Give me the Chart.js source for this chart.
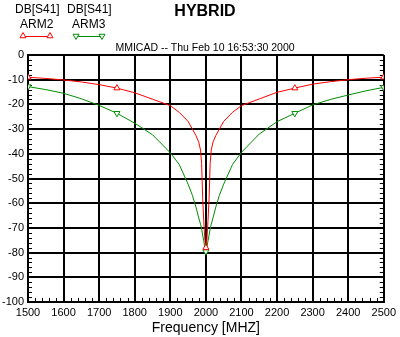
<!DOCTYPE html>
<html>
<head>
<meta charset="utf-8">
<title>HYBRID</title>
<script src="https://cdn.jsdelivr.net/npm/chart.js@4.4.1/dist/chart.umd.min.js"></script>
<style>
  html, body { margin: 0; padding: 0; background: #fff; }
  #wrap { width: 400px; height: 337px; }
</style>
</head>
<body>
<div id="wrap"><canvas id="hybridChart" width="400" height="337"></canvas></div>
<script>
// Hybrid isolation, DB[S41] for both arms over 1500-2500 MHz
const freqMHz = [1500, 1550, 1600, 1650, 1700, 1750, 1800, 1850, 1900, 1925, 1950, 1962, 1972, 1980, 1985,
                 1988, 1991, 1994, 1997, 2000, 2003, 2006, 2009, 2012, 2015, 2020, 2028, 2038, 2050, 2075,
                 2100, 2150, 2200, 2250, 2300, 2350, 2400, 2450, 2500];
const arm2Db = [-9.0, -9.5, -10.1, -10.9, -12.0, -13.4, -15.3, -17.9, -20.5, -23.2, -26.9, -30.0, -32.6, -35.3, -38.5,
                -44.0, -58.0, -67.0, -74.5, -78.0, -74.5, -67.0, -58.0, -44.0, -38.5, -35.3, -32.6, -30.0, -26.9, -23.2,
                -20.5, -17.8, -15.1, -13.4, -11.8, -10.8, -10.0, -9.4, -9.0];
const arm3Db = [-12.8, -14.0, -15.5, -17.7, -20.4, -23.6, -27.6, -32.3, -39.6, -44.3, -52.3, -56.8, -61.5, -66.0, -68.5,
                -70.5, -72.9, -75.2, -77.8, -79.6, -77.8, -75.2, -72.9, -70.5, -68.5, -66.0, -61.5, -56.8, -52.3, -44.3,
                -39.4, -32.0, -27.0, -23.6, -20.2, -18.0, -16.2, -14.5, -13.1];
const markerFreqs = [1500, 1750, 2000, 2250, 2500];
const seriesNames = ['ARM2', 'ARM3'];
const paramName = 'DB[S41]';
const chartTitle = 'HYBRID';
const stampText = 'MMICAD -- Thu Feb 10 16:53:30 2000';

const RED = '#ff0000';
const GREEN = '#008c00';
const FONT = '"Liberation Sans", Arial, sans-serif';

function markerRadius(ctx) {
  return markerFreqs.includes(freqMHz[ctx.dataIndex]) ? 3.5 : 0;
}

function toPoints(values) {
  return freqMHz.map((f, i) => ({ x: f, y: values[i] }));
}

// small inward ticks every 2 dB and every 20 MHz
const minorTicks = {
  id: 'minorTicks',
  beforeDatasetsDraw(chart) {
    const { ctx, chartArea: a, scales: { x, y } } = chart;
    ctx.save();
    ctx.strokeStyle = '#000';
    ctx.lineWidth = 1;
    ctx.beginPath();
    for (let v = -98; v < 0; v += 2) {
      if (v % 10 === 0) continue;
      const py = Math.round(y.getPixelForValue(v)) + 0.5;
      ctx.moveTo(a.left, py); ctx.lineTo(a.left + 4, py);
      ctx.moveTo(a.right, py); ctx.lineTo(a.right - 4, py);
    }
    for (let f = 1520; f < 2500; f += 20) {
      if (f % 100 === 0) continue;
      const px = Math.round(x.getPixelForValue(f)) + 0.5;
      ctx.moveTo(px, a.bottom); ctx.lineTo(px, a.bottom - 4);
    }
    ctx.stroke();
    ctx.restore();
  }
};

// title, time stamp and the stacked legend above the plot
const header = {
  id: 'header',
  afterDraw(chart) {
    const { ctx } = chart;
    ctx.save();
    ctx.fillStyle = '#000';
    ctx.textBaseline = 'middle';

    ctx.textAlign = 'center';
    ctx.font = 'bold 16px ' + FONT;
    ctx.fillText(chartTitle, 205, 12);
    ctx.font = '10.5px ' + FONT;
    ctx.fillText(stampText, 205, 48);

    ctx.textAlign = 'left';
    const slots = [
      { tx: 15, nx: 20, x0: 23, x1: 50, rot: 0 },
      { tx: 67, nx: 72, x0: 76, x1: 102, rot: 180 }
    ];
    chart.data.datasets.forEach((ds, i) => {
      const s = slots[i];
      ctx.fillStyle = '#000';
      ctx.font = '12px ' + FONT;
      ctx.fillText(paramName, s.tx, 10);
      ctx.fillText(seriesNames[i], s.nx, 25);

      ctx.strokeStyle = ds.borderColor;
      ctx.lineWidth = 1;
      ctx.beginPath();
      ctx.moveTo(s.x0, 36.5); ctx.lineTo(s.x1, 36.5);
      ctx.stroke();
      ctx.fillStyle = '#fff';
      [s.x0, s.x1].forEach(px => {
        Chart.helpers.drawPoint(ctx, { pointStyle: 'triangle', radius: 3.5, rotation: s.rot, borderWidth: 1 }, px, 36);
      });
    });
    ctx.restore();
  }
};

const gridStyle = { color: '#000', lineWidth: 2, drawTicks: false };
const tickFont = { family: FONT, size: 11 };

new Chart(document.getElementById('hybridChart'), {
  type: 'line',
  data: {
    datasets: [
      {
        label: seriesNames[0],
        data: toPoints(arm2Db),
        borderColor: RED,
        backgroundColor: '#fff',
        borderWidth: 1,
        pointStyle: 'triangle',
        pointRotation: 0,
        pointRadius: markerRadius,
        pointBorderWidth: 1,
        tension: 0
      },
      {
        label: seriesNames[1],
        data: toPoints(arm3Db),
        borderColor: GREEN,
        backgroundColor: '#fff',
        borderWidth: 1,
        pointStyle: 'triangle',
        pointRotation: 180,
        pointRadius: markerRadius,
        pointBorderWidth: 1,
        tension: 0
      }
    ]
  },
  options: {
    responsive: false,
    animation: false,
    devicePixelRatio: 1,
    layout: { padding: { top: 55, right: 16, left: 0, bottom: 0 } },
    plugins: {
      legend: { display: false },
      tooltip: { enabled: false }
    },
    scales: {
      x: {
        type: 'linear',
        min: 1500,
        max: 2500,
        grid: gridStyle,
        border: { color: '#000', width: 2 },
        ticks: { stepSize: 100, color: '#000', padding: 4, maxRotation: 0, font: tickFont, callback: v => String(v) },
        title: { display: true, text: 'Frequency [MHZ]', color: '#000', padding: 0, font: { family: FONT, size: 14 } },
        afterFit: scale => { scale.height = 35; }
      },
      y: {
        min: -100,
        max: 0,
        grid: gridStyle,
        border: { color: '#000', width: 2 },
        ticks: { stepSize: 10, color: '#000', padding: 4, font: tickFont, callback: v => String(v) },
        afterFit: scale => { scale.width = 28; }
      }
    }
  },
  plugins: [minorTicks, header]
});
</script>
</body>
</html>
